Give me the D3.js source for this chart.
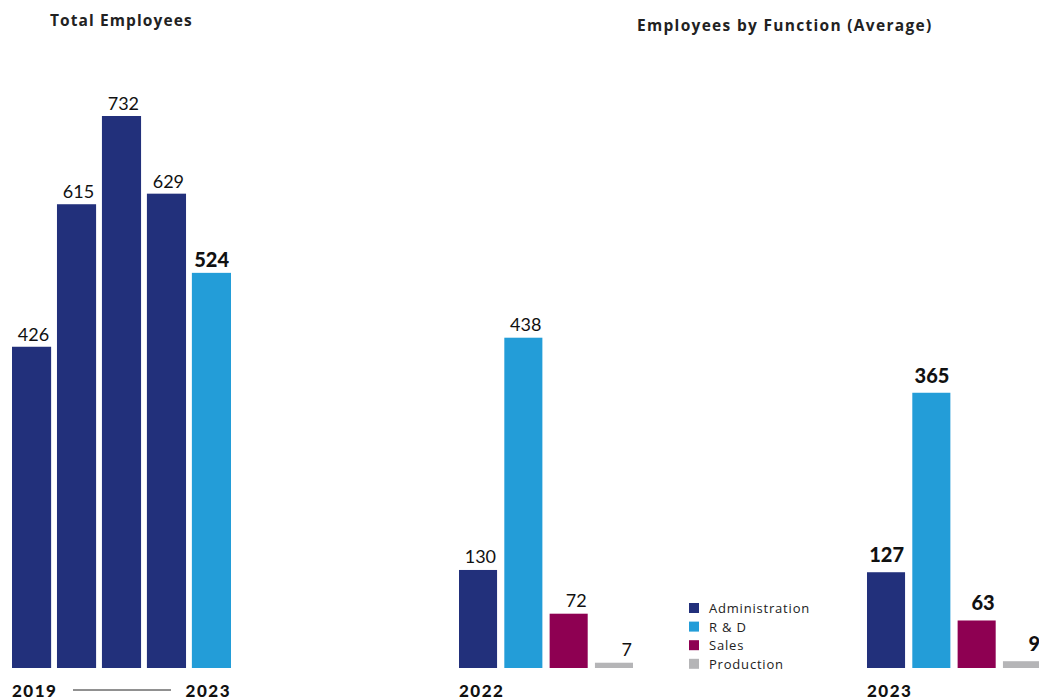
<!DOCTYPE html>
<html>
<head>
<meta charset="utf-8">
<script src="https://cdn.jsdelivr.net/npm/d3@7"></script>
<style>
  body { margin: 0; background: #fff; }
  svg { font-family: Lato, "Open Sans", sans-serif; }
  .wide { font-family: "Open Sans", Lato, sans-serif; }
</style>
</head>
<body>
<svg id="chart" width="1039" height="700"></svg>
<script>
// data
const years = ["2019", "2020", "2021", "2022", "2023"];
const totalEmployees = [426, 615, 732, 629, 524];

const functionYears = ["2022", "2023"];
const functions = ["Administration", "R & D", "Sales", "Production"];
const byFunction2022 = [130, 438, 72, 7];
const byFunction2023 = [127, 365, 63, 9];

const colorFn = d3.scaleOrdinal()
  .domain(functions)
  .range(["#22307b", "#239dd8", "#8e0052", "#b5b5b7"]);

const svg = d3.select("#chart");
const baseY = 668;

// shared value scale, both panels use same height per employee
const y = d3.scaleLinear().domain([0, 732]).range([baseY, 116]);

// ---- left panel: total employees
const xYear = d3.scaleBand().domain(years).range([12, 231]).paddingInner(0.13).paddingOuter(0);
const totals = years.map((yr, i) => ({ year: yr, value: totalEmployees[i] }));
const lastYear = years[years.length - 1];

const left = svg.append("g");
left.selectAll("rect").data(totals).join("rect")
  .attr("x", d => xYear(d.year))
  .attr("y", d => y(d.value))
  .attr("width", xYear.bandwidth())
  .attr("height", d => baseY - y(d.value))
  .attr("fill", d => d.year === lastYear ? colorFn("R & D") : colorFn("Administration"));

left.selectAll("text.val").data(totals).join("text")
  .attr("class", "val")
  .attr("x", d => xYear(d.year) + xYear.bandwidth() - 2)
  .attr("y", d => y(d.value) - 6)
  .attr("text-anchor", "end")
  .attr("font-size", d => d.year === lastYear ? 20 : 18)
  .attr("font-weight", d => d.year === lastYear ? 900 : 400)
  .attr("fill", "#111")
  .text(d => d.value);

left.append("text")
  .attr("class", "wide")
  .attr("x", 50).attr("y", 26)
  .attr("font-size", 15.5).attr("font-weight", 700).attr("fill", "#222")
  .attr("letter-spacing", 1.1)
  .text("Total Employees");

left.append("text")
  .attr("x", xYear(years[0])).attr("y", 697)
  .attr("font-size", 17).attr("font-weight", 900).attr("fill", "#111")
  .attr("letter-spacing", 1.5)
  .text(years[0]);
left.append("text")
  .attr("x", xYear(lastYear) + xYear.bandwidth()).attr("y", 697)
  .attr("text-anchor", "end")
  .attr("font-size", 17).attr("font-weight", 900).attr("fill", "#111")
  .attr("letter-spacing", 1.5)
  .text(lastYear);
left.append("line")
  .attr("x1", 73).attr("x2", 171).attr("y1", 690).attr("y2", 690)
  .attr("stroke", "#222").attr("stroke-width", 1);

// ---- right panel: employees by function
const xGroup = d3.scaleBand().domain(functionYears).range([459, 1041]).paddingInner(0.5735).paddingOuter(0);
const xFn = d3.scaleBand().domain(functions).range([0, xGroup.bandwidth()]).paddingInner(0.16).paddingOuter(0);

const groupData = [
  { year: "2022", values: byFunction2022 },
  { year: "2023", values: byFunction2023 }
];

const right = svg.append("g");
right.append("text")
  .attr("class", "wide")
  .attr("x", 637).attr("y", 31)
  .attr("font-size", 15.5).attr("font-weight", 700).attr("fill", "#222")
  .attr("letter-spacing", 1.3)
  .text("Employees by Function (Average)");

const groups = right.selectAll("g.grp").data(groupData).join("g")
  .attr("class", "grp")
  .attr("transform", d => `translate(${xGroup(d.year)},0)`);

groups.selectAll("rect").data(d => d.values.map((v, i) => ({ fn: functions[i], value: v })))
  .join("rect")
  .attr("x", d => xFn(d.fn))
  .attr("y", d => y(d.value))
  .attr("width", xFn.bandwidth())
  .attr("height", d => baseY - y(d.value))
  .attr("fill", d => colorFn(d.fn));

groups.each(function (g) {
  const bold = g.year === lastYear;
  d3.select(this).selectAll("text.val")
    .data(g.values.map((v, i) => ({ fn: functions[i], value: v })))
    .join("text")
    .attr("class", "val")
    .attr("x", d => xFn(d.fn) + xFn.bandwidth() - 1)
    .attr("y", d => y(d.value) - (bold ? 10 : 7))
    .attr("text-anchor", "end")
    .attr("font-size", bold ? 20 : 18)
    .attr("font-weight", bold ? 900 : 400)
    .attr("fill", "#111")
    .text(d => d.value);
  d3.select(this).append("text")
    .attr("x", 0).attr("y", 697)
    .attr("font-size", 17).attr("font-weight", 900).attr("fill", "#111")
    .attr("letter-spacing", 1.5)
    .text(g.year);
});

// legend
const legend = right.append("g").attr("transform", "translate(689,603)");
const items = legend.selectAll("g").data(functions).join("g")
  .attr("transform", (d, i) => `translate(0,${i * 18.6})`);
items.append("rect").attr("width", 10).attr("height", 10).attr("fill", d => colorFn(d));
items.append("text")
  .attr("class", "wide")
  .attr("x", 20).attr("y", 10)
  .attr("font-size", 13).attr("fill", "#222")
  .attr("letter-spacing", 0.8)
  .text(d => d);
</script>
</body>
</html>
